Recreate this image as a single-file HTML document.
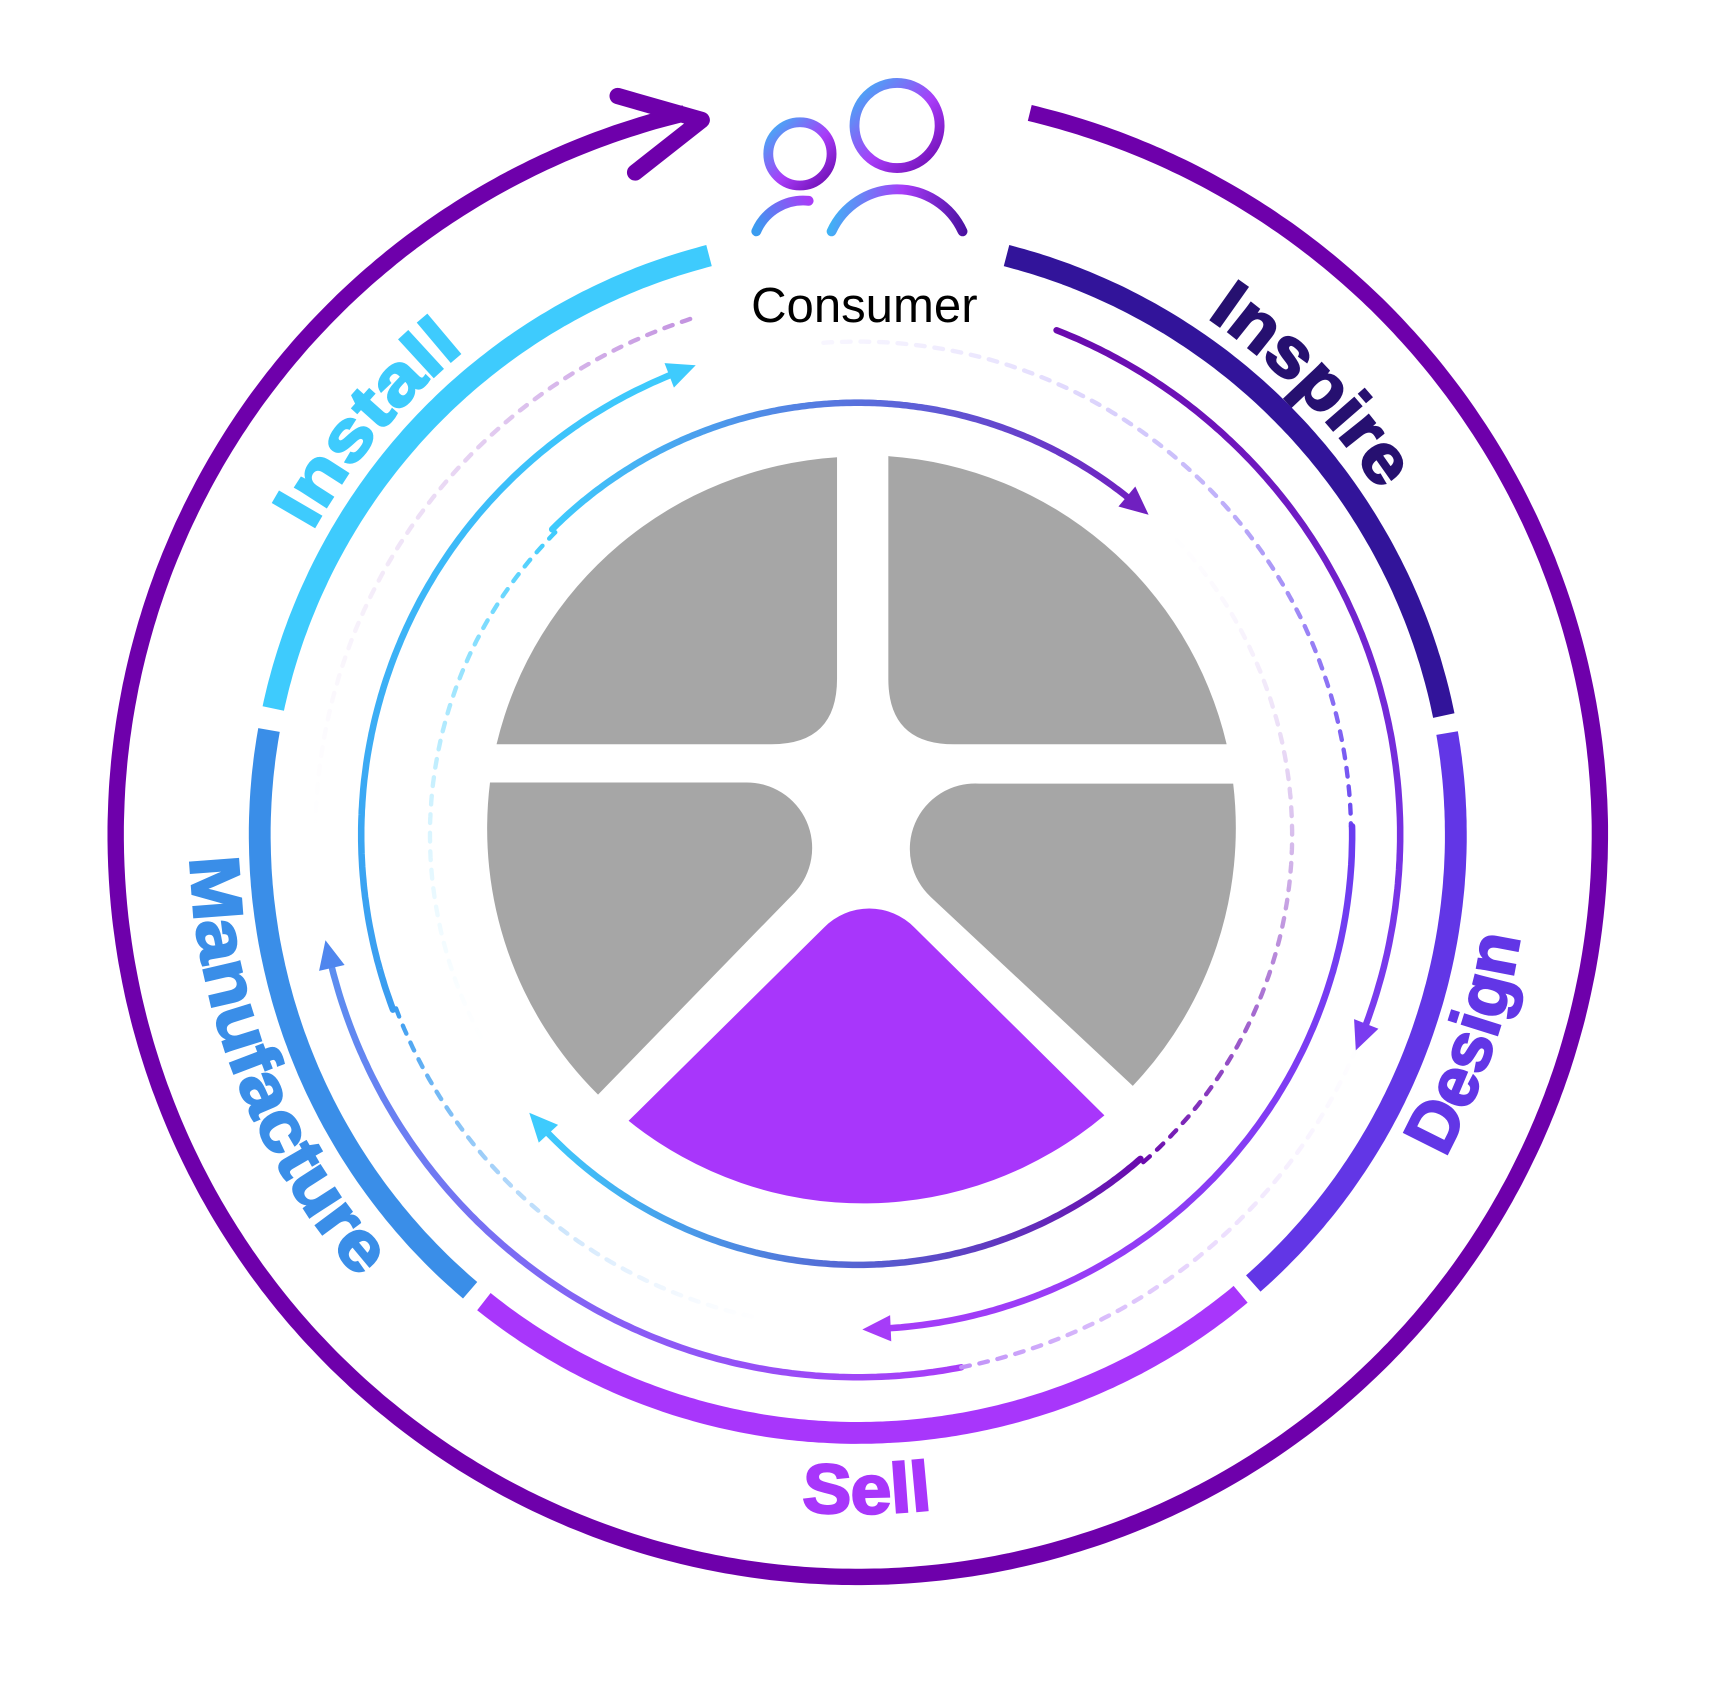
<!DOCTYPE html>
<html><head><meta charset="utf-8"><style>
html,body{margin:0;padding:0;background:#fff;}
svg{display:block;}
</style></head><body>
<svg id="s" xmlns="http://www.w3.org/2000/svg" width="1709" height="1697" viewBox="0 0 1566 1555">
<defs>
<linearGradient id="ig" x1="0" y1="0" x2="1" y2="1"><stop offset="0" stop-color="#3ab8f5"/><stop offset="0.55" stop-color="#a83cf8"/><stop offset="1" stop-color="#6a0aad"/></linearGradient>
<linearGradient id="ib" gradientUnits="userSpaceOnUse" x1="760" y1="190" x2="885" y2="212"><stop offset="0" stop-color="#3ab8f5"/><stop offset="0.5" stop-color="#a83cf8"/><stop offset="1" stop-color="#4a10a0"/></linearGradient>
<linearGradient id="ib2" gradientUnits="userSpaceOnUse" x1="693" y1="210" x2="742" y2="184"><stop offset="0" stop-color="#3a9cf0"/><stop offset="1" stop-color="#a83cf8"/></linearGradient>
</defs>
<g id="rings"></g>
<!-- pie -->
<g fill="#a6a6a6">
<path d="M455,682 A343,343 0 0 1 767,419 L767,622 Q767,682 707,682 Z"/>
<path d="M814,418 A343,343 0 0 1 1124,682 L874,682 Q814,682 814,622 Z"/>
<path d="M449,717 L683,717 A60,60 0 0 1 728,818 L548,1003 A343,343 0 0 1 449,717 Z"/>
<path d="M1130,718 L897,718 A60,60 0 0 0 853,822 L1038,995 A343,343 0 0 0 1130,718 Z"/>
</g>
<path fill="#a836fb" d="M576,1027 L755,850 A58,58 0 0 1 838,850 L1012,1022 A343,343 0 0 1 576,1027 Z"/>
<!-- consumer icon -->
<g fill="none" stroke-width="9" stroke-linecap="round">
<circle cx="733" cy="141" r="29" stroke="url(#ig)"/>
<circle cx="822" cy="115" r="39" stroke="url(#ig)"/>
<path d="M693,212 A47,47 0 0 1 741,184" stroke="url(#ib2)"/>
<path d="M762,212 A66,66 0 0 1 882,212" stroke="url(#ib)"/>
</g>
<text x="792" y="295" text-anchor="middle" font-family="Liberation Sans, sans-serif" font-size="45" fill="#000">Consumer</text>
<g id="labels" font-family="Liberation Sans, sans-serif" font-weight="bold" font-size="64"></g>
</svg>
<script>
(function(){
var NS="http://www.w3.org/2000/svg";
var cx=786,cy=765;
var g=document.getElementById('rings');
var defs=document.querySelector('defs');
var gid=0;
function P(r,a){a=a*Math.PI/180;return [cx+r*Math.cos(a),cy+r*Math.sin(a)];}
function arcD(r1,r2,a1,a2){var n=Math.max(8,Math.ceil(Math.abs(a2-a1)*2));var d="";for(var i=0;i<=n;i++){var t=i/n;var p=P(r1+(r2-r1)*t,a1+(a2-a1)*t);d+=(i?"L":"M")+p[0].toFixed(1)+","+p[1].toFixed(1);}return d;}
function grad(p1,p2,c1,o1,c2,o2){var id="g"+(gid++);var lg=document.createElementNS(NS,'linearGradient');lg.setAttribute('id',id);lg.setAttribute('gradientUnits','userSpaceOnUse');lg.setAttribute('x1',p1[0]);lg.setAttribute('y1',p1[1]);lg.setAttribute('x2',p2[0]);lg.setAttribute('y2',p2[1]);
lg.innerHTML='<stop offset="0" stop-color="'+c1+'" stop-opacity="'+o1+'"/><stop offset="1" stop-color="'+c2+'" stop-opacity="'+o2+'"/>';defs.appendChild(lg);return "url(#"+id+")";}
function el(tag,attrs,parent){var e=document.createElementNS(NS,tag);for(var k in attrs)e.setAttribute(k,attrs[k]);(parent||g).appendChild(e);return e;}
function arc(o){var r1=o.r,r2=o.r2||o.r;var p1=P(r1,o.a1),p2=P(r2,o.a2);
var stroke=o.c2?grad(p1,p2,o.c1,o.o1==null?1:o.o1,o.c2,o.o2==null?1:o.o2):o.c1;
var at={d:arcD(r1,r2,o.a1,o.a2),fill:"none",stroke:stroke,"stroke-width":o.w,"stroke-linecap":o.cap||"round"};
if(o.dash)at["stroke-dasharray"]=o.dash;el('path',at);
if(o.arrow){var a=o.a2*Math.PI/180;var s=o.a2>o.a1?1:-1;var dx=-Math.sin(a)*s,dy=Math.cos(a)*s;var L=o.L||26,W=o.W||12;
var e=p2;var tip=[e[0]+dx*L*0.6,e[1]+dy*L*0.6];var b=[e[0]-dx*L*0.4,e[1]-dy*L*0.4];
var nx=-dy,ny=dx;el('polygon',{points:tip[0]+","+tip[1]+" "+(b[0]+nx*W)+","+(b[1]+ny*W)+" "+(b[0]-nx*W)+","+(b[1]-ny*W),fill:o.ac});}}
// outer ring
arc({r:680,a1:-76.6,a2:256.5,w:15,c1:"#6e00ab",cap:"butt"});
el('polyline',{points:"566,88 643,110 582,158",fill:"none",stroke:"#6e00ab","stroke-width":15,"stroke-linecap":"round","stroke-linejoin":"round"});
// band ring
arc({r:548,a1:192.2,a2:255.6,w:20,c1:"#3ecbfd",cap:"butt"});
arc({r:548,a1:284.4,a2:348.5,w:20,c1:"#32149a",cap:"butt"});
arc({r:548,a1:350.2,a2:408.6,w:20,c1:"#6236e6",cap:"butt"});
arc({r:548,a1:50.2,a2:128.7,w:20,c1:"#a836fb",cap:"butt"});
arc({r:548,a1:130.4,a2:190.1,w:20,c1:"#3a8ee8",cap:"butt"});
// ring C
arc({r:497,a1:-68.5,a2:21.6,w:6,c1:"#6a0aad",c2:"#7a3cf0",arrow:1,ac:"#7a3cf0"});
arc({r:497,a1:79,a2:167,w:6,c1:"#a83cf8",c2:"#5b8ff0",arrow:1,ac:"#4f86ee"});
arc({r:497,a1:79,a2:22,w:4,c1:"#c090f8",c2:"#e8d8ff",o2:0,dash:"8 9"});
arc({r:497,a1:252,a2:180,w:4,c1:"#c393e0",c2:"#f4eefa",o2:0,dash:"8 9"});
// ring B
arc({r:455,a1:159.4,a2:249,w:6,c1:"#3a9cf0",c2:"#3ecbfd",arrow:1,ac:"#3ecbfd"});
arc({r:452,a1:159.4,a2:101,w:4,c1:"#3a9cf0",c2:"#d0e6ff",o2:0,dash:"8 9"});
arc({r:452,a1:-94,a2:-1,w:4,c1:"#e8e2ff",o1:0.3,c2:"#6a48f0",dash:"8 9"});
arc({r:453,a1:-1,a2:87.5,w:6,c1:"#6a3cf0",c2:"#a63cf8",arrow:1,ac:"#a63cf8"});
// ring A
arc({r:396,a1:225,a2:310,w:6,c1:"#3ecbfd",c2:"#7020c0",arrow:1,ac:"#7020c0"});
arc({r:392,a1:225,a2:150,w:4,c1:"#3ecbfd",c2:"#e0f6ff",o2:0,dash:"8 9"});
arc({r:394,a1:48.9,a2:137.5,w:6,c1:"#6a0aad",c2:"#3ecbfd",arrow:1,ac:"#3ecbfd"});
arc({r:398,a1:48.9,a2:-45,w:4,c1:"#6a0aad",c2:"#e8d8ff",o2:0,dash:"8 9"});
// labels
var lab=document.getElementById('labels');
function label(txt,color,r,ac,cw,len){var id="t"+(gid++);var a1=cw?ac-45:ac+45,a2=cw?ac+45:ac-45;
el('path',{id:id,d:arcD(r,r,a1,a2),fill:"none",stroke:"none"},defs);
var t=el('text',{fill:color,stroke:color,"stroke-width":2},lab);var tp=el('textPath',{href:"#"+id,startOffset:"50%","text-anchor":"middle",textLength:len,lengthAdjust:"spacingAndGlyphs"},t);tp.setAttributeNS("http://www.w3.org/1999/xlink","xlink:href","#"+id);tp.textContent=txt;}
label("Install","#3ecbfd",572,220,true,218);
label("Inspire","#261070",572,-44.7,true,226);
label("Design","#6236e6",614,18.8,false,215);
label("Sell","#a836fb",622,89.2,false,120);
label("Manufacture","#3a8ee8",612,158.2,false,424);
})();
</script>
</body></html>
